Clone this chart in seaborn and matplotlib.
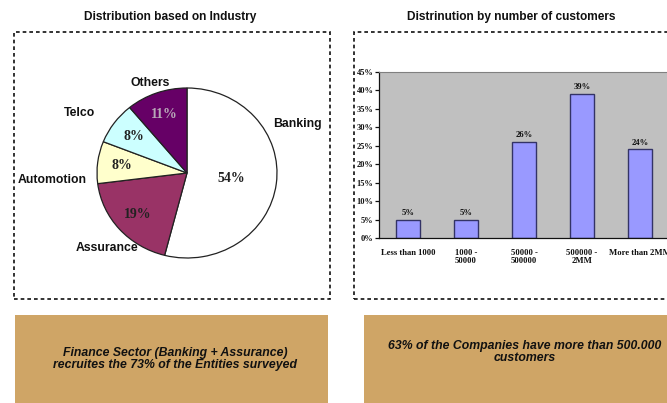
import matplotlib
matplotlib.use("Agg")
import matplotlib.pyplot as plt
from matplotlib.patches import Rectangle
import numpy as np
import pandas as pd
import seaborn as sns

# --- data -------------------------------------------------------------
industries = ["Banking", "Assurance", "Automotion", "Telco", "Others"]
industry_share = [54, 19, 8, 8, 11]
industry_colors = ["#FFFFFF", "#993366", "#FFFFCC", "#CCFFFF", "#660066"]

customer_bands = ["Less than 1000", "1000 -\n50000", "50000 -\n500000",
                  "500000 -\n2MM", "More than 2MM"]
customer_share = [5, 5, 26, 39, 24]

left_title = "Distribution based on Industry"
right_title = "Distrinution by number of customers"
left_note = "Finance Sector (Banking + Assurance)\nrecruites the 73% of the Entities surveyed"
right_note = "63% of the Companies have more than 500.000\ncustomers"

# --- figure -----------------------------------------------------------
sns.set_theme(style="white")
plt.rcParams["font.family"] = ["Liberation Sans", "DejaVu Sans"]

W, H = 667, 403
fig = plt.figure(figsize=(W / 100, H / 100), dpi=100)
fig.patch.set_facecolor("white")


def fx(px):
    return px / W


def fy(py):
    return 1 - py / H


def frame(x0, y0, x1, y1, **kw):
    fig.add_artist(Rectangle((fx(x0), fy(y1)), fx(x1) - fx(x0), fy(y0) - fy(y1),
                             transform=fig.transFigure, **kw))


# dashed panels and note boxes
dash = dict(fill=False, edgecolor="#111111", linewidth=1.2, linestyle=(0, (2.2, 1.8)))
frame(14, 32, 330, 299, **dash)
frame(354, 32, 690, 299, **dash)
frame(15, 315, 328, 420, facecolor="#CFA566", edgecolor="none")
frame(364, 315, 690, 420, facecolor="#CFA566", edgecolor="none")

title_kw = dict(fontsize=8.6, fontweight="heavy", ha="center", va="center", color="#111111")
fig.text(fx(170), fy(17), left_title, **title_kw)
fig.text(fx(511), fy(17), right_title, **title_kw)

note_kw = dict(fontsize=8.8, fontweight="heavy", style="italic", ha="center",
               va="center", color="#111111", linespacing=1.05)
fig.text(fx(175), fy(359), left_note, **note_kw)
fig.text(fx(525), fy(352), right_note, **note_kw)

# --- pie: distribution by industry -----------------------------------
cx, cy, rx, ry = 187, 173, 90, 85
ax_pie = fig.add_axes([fx(cx - rx), fy(cy + ry), fx(2 * rx), (2 * ry) / H])
wedges, labels, pcts = ax_pie.pie(
    industry_share, colors=industry_colors, startangle=90, counterclock=False,
    labels=industries, autopct="%d%%", pctdistance=0.73, labeldistance=1.2,
    wedgeprops=dict(edgecolor="#222222", linewidth=0.9),
    textprops=dict(fontsize=8.8, fontweight="heavy", color="#111111"),
)
ax_pie.set_aspect("auto")
ax_pie.set_xlim(-1, 1)
ax_pie.set_ylim(-1, 1)
ax_pie.axis("off")

label_pos = [(1.23, 0.58), (-0.89, -0.88), (-1.5, -0.08), (-1.19, 0.71), (-0.41, 1.06)]
for t, (x, y) in zip(labels, label_pos):
    t.set_position((x, y))
    t.set_ha("center")
    t.set_va("center")

for i, t in enumerate(pcts):
    t.set_fontfamily(["Liberation Serif", "DejaVu Serif"])
    t.set_fontsize(10)
    t.set_fontweight("bold")
    t.set_color("#222222")
    t.set_ha("center")
    t.set_va("center")
# the Banking figure sits nearer the centre
theta = np.deg2rad(90 - industry_share[0] * 3.6 / 2)
pcts[0].set_position((0.5 * np.cos(theta), 0.5 * np.sin(theta)))
pcts[-1].set_color("#B8A8B8")

# --- bars: distribution by number of customers -----------------------
df = pd.DataFrame({"band": customer_bands, "share": np.array(customer_share) / 100})
ax_bar = fig.add_axes([fx(379), fy(238), fx(669) - fx(379), (238 - 72) / H])
ax_bar.set_facecolor("#C0C0C0")
sns.barplot(data=df, x="band", y="share", ax=ax_bar, width=0.4,
            color="#9999FF", saturation=1, edgecolor="#333366", linewidth=1.0)
ax_bar.set_xlim(-0.5, len(customer_bands) - 0.5)
ax_bar.set_ylim(0, 0.45)
ax_bar.set_xlabel("")
ax_bar.set_ylabel("")

serif = ["Liberation Serif", "DejaVu Serif"]
ax_bar.set_yticks(np.arange(0, 0.451, 0.05))
ax_bar.set_yticklabels([f"{v}%" for v in range(0, 46, 5)], fontsize=6,
                       fontfamily=serif, fontweight="bold", color="#111111")
ax_bar.set_xticks(range(len(customer_bands)))
ax_bar.set_xticklabels(customer_bands, fontsize=6.2, fontfamily=serif,
                       fontweight="bold", color="#111111", linespacing=1.0, va="top")
ax_bar.set_xticks(np.arange(-0.5, len(customer_bands), 1), minor=True)
ax_bar.tick_params(axis="x", which="major", length=0, pad=8)
ax_bar.tick_params(axis="x", which="minor", length=3, width=0.9, color="#111111", direction="out")
ax_bar.tick_params(axis="y", which="major", length=3, width=0.9, color="#111111",
                   direction="out", pad=1, left=True)

for side in ("left", "bottom"):
    ax_bar.spines[side].set_color("#111111")
    ax_bar.spines[side].set_linewidth(0.9)
for side in ("top", "right"):
    ax_bar.spines[side].set_color("#808080")
    ax_bar.spines[side].set_linewidth(0.8)

for cont in ax_bar.containers:
    ax_bar.bar_label(cont, labels=[f"{v}%" for v in customer_share], padding=2,
                     fontsize=6.2, fontfamily=serif, fontweight="bold", color="#111111")

fig.savefig("out.png", dpi=100)
